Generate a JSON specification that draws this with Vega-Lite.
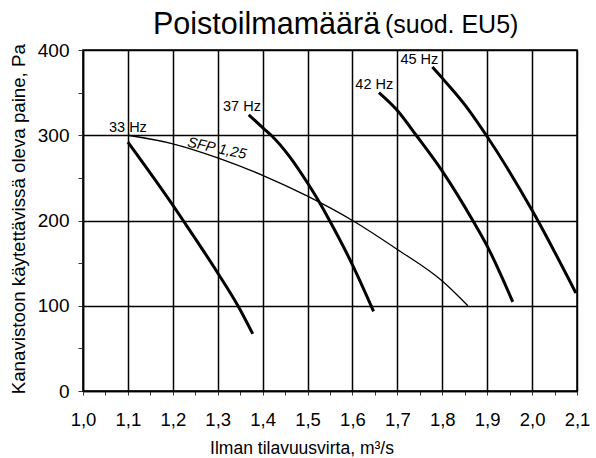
{
  "$schema": "https://vega.github.io/schema/vega-lite/v6.json",
  "width": 494,
  "height": 341,
  "autosize": {"type": "none"},
  "padding": {"left": 83, "top": 50, "right": 19, "bottom": 67},
  "background": "white",
  "config": {
    "view": {"stroke": "black", "strokeWidth": 1.5},
    "font": "Liberation Sans",
    "text": {"font": "Liberation Sans", "color": "black"}
  },
  "title": {
    "text": "Poistoilmamäärä",
    "anchor": "start",
    "frame": "group",
    "dx": 70,
    "offset": -27,
    "fontSize": 30.5,
    "fontWeight": "normal",
    "font": "Liberation Sans",
    "color": "black"
  },
  "datasets": {
    "curves": [
      {"series": "33 Hz", "q": 1.1, "p": 292},
      {"series": "33 Hz", "q": 1.2, "p": 218},
      {"series": "33 Hz", "q": 1.223, "p": 200},
      {"series": "33 Hz", "q": 1.3, "p": 138.5},
      {"series": "33 Hz", "q": 1.345, "p": 100},
      {"series": "33 Hz", "q": 1.378, "p": 67},
      {"series": "37 Hz", "q": 1.369, "p": 324},
      {"series": "37 Hz", "q": 1.4, "p": 309},
      {"series": "37 Hz", "q": 1.419, "p": 300},
      {"series": "37 Hz", "q": 1.46, "p": 275},
      {"series": "37 Hz", "q": 1.5, "p": 244},
      {"series": "37 Hz", "q": 1.528, "p": 220},
      {"series": "37 Hz", "q": 1.549, "p": 200},
      {"series": "37 Hz", "q": 1.6, "p": 148},
      {"series": "37 Hz", "q": 1.647, "p": 93.5},
      {"series": "42 Hz", "q": 1.659, "p": 350},
      {"series": "42 Hz", "q": 1.7, "p": 329},
      {"series": "42 Hz", "q": 1.742, "p": 300},
      {"series": "42 Hz", "q": 1.8, "p": 258},
      {"series": "42 Hz", "q": 1.868, "p": 200},
      {"series": "42 Hz", "q": 1.9, "p": 170},
      {"series": "42 Hz", "q": 1.957, "p": 104.5},
      {"series": "45 Hz", "q": 1.778, "p": 380},
      {"series": "45 Hz", "q": 1.8, "p": 367},
      {"series": "45 Hz", "q": 1.85, "p": 336},
      {"series": "45 Hz", "q": 1.898, "p": 300},
      {"series": "45 Hz", "q": 2.0, "p": 212},
      {"series": "45 Hz", "q": 2.0975, "p": 115},
      {"series": "SFP 1,25", "q": 1.1, "p": 300},
      {"series": "SFP 1,25", "q": 1.2, "p": 290},
      {"series": "SFP 1,25", "q": 1.3, "p": 273.5},
      {"series": "SFP 1,25", "q": 1.4, "p": 253},
      {"series": "SFP 1,25", "q": 1.5, "p": 228.5},
      {"series": "SFP 1,25", "q": 1.6, "p": 200},
      {"series": "SFP 1,25", "q": 1.7, "p": 166},
      {"series": "SFP 1,25", "q": 1.8, "p": 129},
      {"series": "SFP 1,25", "q": 1.857, "p": 100}
    ],
    "hzLabels": [
      {"label": "33 Hz", "q": 1.1, "p": 304},
      {"label": "37 Hz", "q": 1.354, "p": 328},
      {"label": "42 Hz", "q": 1.6486, "p": 354},
      {"label": "45 Hz", "q": 1.749, "p": 384}
    ],
    "sfpLabel": [
      {"label": "SFP 1,25", "q": 1.298, "p": 284}
    ],
    "titleSuffix": [
      {"label": "(suod. EU5)", "q": 1.6725, "p": 419.6}
    ]
  },
  "encoding": {
    "x": {
      "field": "q",
      "type": "quantitative",
      "scale": {"domain": [1.0, 2.1], "nice": false, "zero": false},
      "axis": {
        "title": "Ilman tilavuusvirta, m³/s",
        "values": [1.0, 1.05, 1.1, 1.15, 1.2, 1.25, 1.3, 1.35, 1.4, 1.45, 1.5, 1.55, 1.6, 1.65, 1.7, 1.75, 1.8, 1.85, 1.9, 1.95, 2.0, 2.05, 2.1],
        "labelExpr": "abs(datum.value*10 - round(datum.value*10)) < 0.001 ? replace(format(datum.value, '.1f'), '.', ',') : ''",
        "labelFlush": false,
        "labelOverlap": false,
        "grid": true,
        "gridColor": "black",
        "gridWidth": 1.5,
        "gridOpacity": {"condition": {"test": "abs(datum.value*10 - round(datum.value*10)) < 0.001", "value": 1}, "value": 0},
        "domainColor": "black",
        "domainWidth": 1.5,
        "tickColor": "#333",
        "tickSize": 4,
        "labelFont": "Liberation Sans",
        "labelFontSize": 18.5,
        "labelColor": "black",
        "labelPadding": 15,
        "titleFont": "Liberation Sans",
        "titleFontSize": 17.5,
        "titleFontWeight": "normal",
        "titleColor": "black",
        "titleX": 218.5,
        "titleY": 62,
        "titleBaseline": "alphabetic",
        "titleAlign": "center"
      }
    },
    "y": {
      "field": "p",
      "type": "quantitative",
      "scale": {"domain": [0, 400], "nice": false, "zero": true},
      "axis": {
        "title": "Kanavistoon käytettävissä oleva paine, Pa",
        "values": [0, 50, 100, 150, 200, 250, 300, 350, 400],
        "labelExpr": "datum.value % 100 === 0 ? datum.label : ''",
        "labelOverlap": false,
        "grid": true,
        "gridColor": "black",
        "gridWidth": 1.5,
        "gridOpacity": {"condition": {"test": "datum.value % 100 === 0", "value": 1}, "value": 0},
        "domainColor": "black",
        "domainWidth": 1.5,
        "tickColor": "#333",
        "tickSize": 5,
        "labelFont": "Liberation Sans",
        "labelFontSize": 19,
        "labelColor": "black",
        "labelPadding": 9,
        "titleFont": "Liberation Sans",
        "titleFontSize": 18.7,
        "titleFontWeight": "normal",
        "titleColor": "black",
        "titleX": -58.3,
        "titleY": 168.7,
        "titleAngle": -90,
        "titleBaseline": "alphabetic",
        "titleAlign": "center"
      }
    }
  },
  "layer": [
    {
      "data": {"name": "curves"},
      "transform": [{"filter": "datum.series !== 'SFP 1,25'"}],
      "mark": {"type": "line", "color": "black", "strokeWidth": 3, "interpolate": "monotone"},
      "encoding": {"detail": {"field": "series", "type": "nominal"}}
    },
    {
      "data": {"name": "curves"},
      "transform": [{"filter": "datum.series === 'SFP 1,25'"}],
      "mark": {"type": "line", "color": "black", "strokeWidth": 1.3, "interpolate": "monotone"},
      "encoding": {"detail": {"field": "series", "type": "nominal"}}
    },
    {
      "data": {"name": "hzLabels"},
      "mark": {"type": "text", "fontSize": 14.5, "align": "center", "baseline": "alphabetic", "color": "black"},
      "encoding": {"text": {"field": "label", "type": "nominal"}}
    },
    {
      "data": {"name": "sfpLabel"},
      "mark": {"type": "text", "fontSize": 14.5, "fontStyle": "italic", "angle": 12, "align": "center", "baseline": "middle", "color": "black"},
      "encoding": {"text": {"field": "label", "type": "nominal"}}
    },
    {
      "data": {"name": "titleSuffix"},
      "mark": {"type": "text", "fontSize": 25, "align": "left", "baseline": "alphabetic", "color": "black"},
      "encoding": {"text": {"field": "label", "type": "nominal"}}
    }
  ]
}
